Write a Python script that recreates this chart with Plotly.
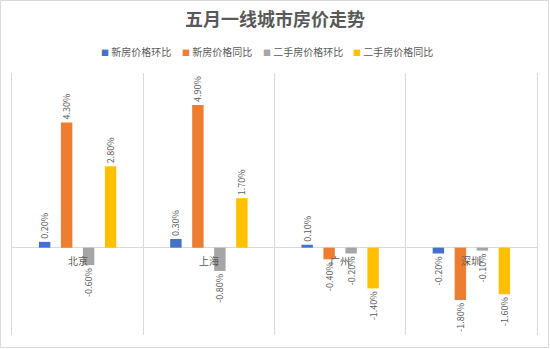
import plotly.graph_objects as go

# City categories and monthly housing price changes (%)
cities = ["北京", "上海", "广州", "深圳"]
series_names = ["新房价格环比", "新房价格同比", "二手房价格环比", "二手房价格同比"]
new_mom = [0.2, 0.3, 0.1, -0.2]
new_yoy = [4.3, 4.9, -0.4, -1.8]
used_mom = [-0.6, -0.8, -0.2, -0.1]
used_yoy = [2.8, 1.7, -1.4, -1.6]
series_values = [new_mom, new_yoy, used_mom, used_yoy]
colors = ["#4472C4", "#ED7D31", "#A5A5A5", "#FFC000"]

W, H = 550, 349
ML, MR, MT, MB = 12, 13, 73, 14
TEXT = "#595959"
GRID = "#D9D9D9"
FONT = "Noto Sans CJK SC"

fig = go.Figure()
for name, vals, col in zip(series_names, series_values, colors):
    fig.add_trace(go.Bar(
        x=cities, y=vals, name=name, showlegend=False,
        marker=dict(color=col, line=dict(width=0)),
        texttemplate="%{y:.2f}%", textposition="outside", textangle=-90,
        textfont=dict(size=9, color=TEXT, family=FONT),
        constraintext="none", cliponaxis=False,
    ))

# City names sit just below the zero line
for c in cities:
    fig.add_annotation(x=c, y=0, text=c, showarrow=False, yanchor="top",
                       yshift=-3, font=dict(size=10, color=TEXT, family=FONT))

pw = W - ML - MR
ph = H - MT - MB

# Compact legend: small coloured square followed by the series name
legend_left_px = [99, 180, 261, 351]
for name, col, px in zip(series_names, colors, legend_left_px):
    fig.add_annotation(
        xref="paper", yref="paper",
        x=(px - ML) / pw, y=(H - MB - 52) / ph,
        xanchor="left", yanchor="middle", showarrow=False,
        text=f"<span style='color:{col};font-size:8px'>■</span> {name}",
        font=dict(size=10, color=TEXT, family=FONT),
    )

# Light frame around the whole chart
fig.add_shape(type="rect", xref="paper", yref="paper",
              x0=(0.5 - ML) / pw, x1=(W - 1.5 - ML) / pw,
              y0=-(MB - 1.5) / ph, y1=(ph + MT - 0.5) / ph,
              line=dict(color=GRID, width=1), fillcolor="rgba(0,0,0,0)", layer="below")

fig.update_layout(
    width=W, height=H,
    margin=dict(l=ML, r=MR, t=MT, b=MB),
    paper_bgcolor="white", plot_bgcolor="white",
    font=dict(family=FONT, color=TEXT),
    barmode="group", bargap=0.33, bargroupgap=0.48,
    title=dict(text="<b>五月一线城市房价走势</b>", x=0.5, xanchor="center",
               y=1 - 20 / H, yanchor="middle",
               font=dict(size=18, color=TEXT, family=FONT)),
    showlegend=False,
    xaxis=dict(showticklabels=False, ticks="", showgrid=True, gridcolor=GRID,
               gridwidth=1, tickson="boundaries", zeroline=False, showline=False,
               fixedrange=True),
    yaxis=dict(range=[-3, 6], showticklabels=False, showgrid=False,
               zeroline=True, zerolinecolor=GRID, zerolinewidth=1,
               showline=True, mirror=True, linecolor=GRID, linewidth=1,
               ticks="", fixedrange=True),
)

fig.write_html("out.html")
